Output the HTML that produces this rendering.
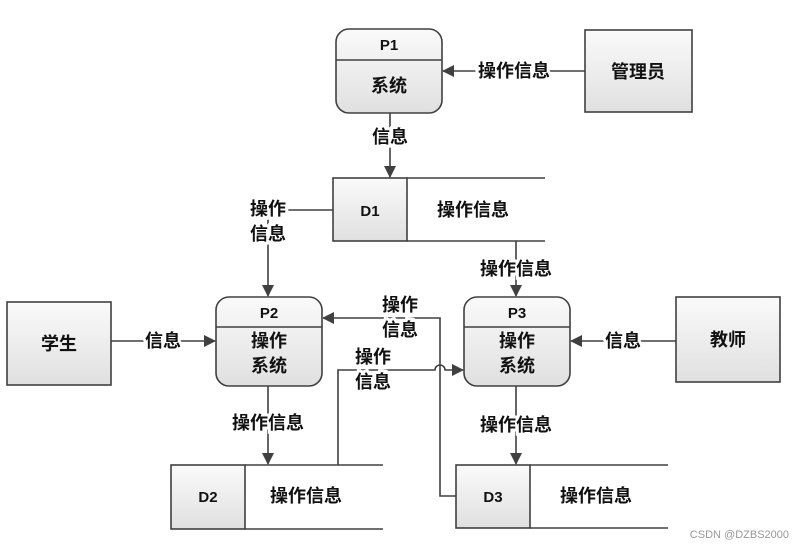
<!DOCTYPE html>
<html><head><meta charset="utf-8"><style>body{margin:0;background:#fff}svg{display:block}</style></head><body>
<svg width="803" height="549" viewBox="0 0 803 549" xmlns="http://www.w3.org/2000/svg" font-family="'Liberation Sans','Noto Sans CJK SC',sans-serif">
<defs>
<linearGradient id="g" x1="0" y1="0" x2="0" y2="1"><stop offset="0" stop-color="#fafafa"/><stop offset="1" stop-color="#e0e0e0"/></linearGradient>
<marker id="a" markerWidth="12" markerHeight="12" refX="11" refY="6" orient="auto" markerUnits="userSpaceOnUse"><path d="M0,0 L12,6 L0,12 Z" fill="#404040"/></marker>
</defs>
<g stroke="#404040" stroke-width="1.6" fill="none">
<rect x="336" y="29" width="106" height="84" rx="13" fill="url(#g)"/><line x1="336" y1="60" x2="442" y2="60"/>
<rect x="216" y="297" width="106" height="89" rx="13" fill="url(#g)"/><line x1="216" y1="327" x2="322" y2="327"/>
<rect x="464" y="297" width="106" height="89" rx="13" fill="url(#g)"/><line x1="464" y1="327" x2="570" y2="327"/>
<rect x="585" y="30" width="107" height="82" fill="url(#g)"/>
<rect x="7" y="302" width="104" height="83" fill="url(#g)"/>
<rect x="676" y="297" width="104" height="85" fill="url(#g)"/>
<rect x="333" y="178" width="74" height="63" fill="url(#g)"/><line x1="407" y1="178" x2="545" y2="178"/><line x1="407" y1="241" x2="545" y2="241"/>
<rect x="171" y="465" width="74" height="64" fill="url(#g)"/><line x1="245" y1="465" x2="383" y2="465"/><line x1="245" y1="529" x2="383" y2="529"/>
<rect x="456" y="465" width="74" height="63" fill="url(#g)"/><line x1="530" y1="465" x2="668" y2="465"/><line x1="530" y1="528" x2="668" y2="528"/>
<line x1="585" y1="71" x2="443" y2="71" marker-end="url(#a)"/>
<line x1="390" y1="113" x2="390" y2="177" marker-end="url(#a)"/>
<polyline points="333,210 268,210 268,296" marker-end="url(#a)"/>
<line x1="516" y1="241" x2="516" y2="296" marker-end="url(#a)"/>
<line x1="111" y1="341" x2="215" y2="341" marker-end="url(#a)"/>
<line x1="676" y1="341" x2="571" y2="341" marker-end="url(#a)"/>
<line x1="268" y1="386" x2="268" y2="464" marker-end="url(#a)"/>
<line x1="516" y1="386" x2="516" y2="464" marker-end="url(#a)"/>
<path d="M338,465 L338,370 L435,370 A5,5 0 0 1 445,370 L463,370" marker-end="url(#a)"/>
<polyline points="456,496 440,496 440,318 323,318" marker-end="url(#a)"/>
</g>
<g font-size="18" font-weight="bold" fill="#111" text-anchor="middle" stroke="#fff" stroke-width="6" paint-order="stroke">
<text x="514" y="77">操作信息</text>
<text x="390" y="143">信息</text>
<text x="268" y="215">操作</text><text x="268" y="240">信息</text>
<text x="516" y="275">操作信息</text>
<text x="163" y="347">信息</text>
<text x="623" y="347">信息</text>
<text x="400" y="311">操作</text><text x="400" y="336">信息</text>
<text x="373" y="363">操作</text><text x="373" y="388">信息</text>
<text x="268" y="429">操作信息</text>
<text x="516" y="431">操作信息</text>
</g>
<g font-size="18" fill="#111" text-anchor="middle">
<text x="389" y="50" font-weight="bold" font-size="15">P1</text>
<text x="389" y="92" font-weight="bold">系统</text>
<text x="269" y="318" font-weight="bold" font-size="15">P2</text>
<text x="269" y="347" font-weight="bold">操作</text><text x="269" y="372" font-weight="bold">系统</text>
<text x="517" y="318" font-weight="bold" font-size="15">P3</text>
<text x="517" y="347" font-weight="bold">操作</text><text x="517" y="372" font-weight="bold">系统</text>
<text x="638" y="78" font-weight="bold">管理员</text>
<text x="59" y="350" font-weight="bold">学生</text>
<text x="728" y="346" font-weight="bold">教师</text>
<text x="370" y="216" font-weight="bold" font-size="15">D1</text>
<text x="473" y="216" font-weight="bold">操作信息</text>
<text x="208" y="502" font-weight="bold" font-size="15">D2</text>
<text x="306" y="502" font-weight="bold">操作信息</text>
<text x="493" y="502" font-weight="bold" font-size="15">D3</text>
<text x="596" y="502" font-weight="bold">操作信息</text>
</g>
<text x="789" y="538" font-size="11" fill="#999" text-anchor="end">CSDN @DZBS2000</text>
</svg>
</body></html>
